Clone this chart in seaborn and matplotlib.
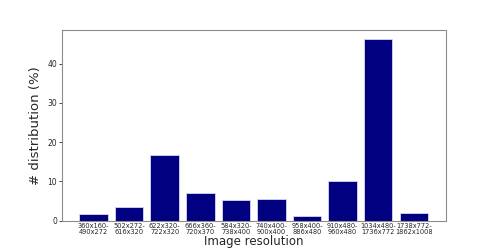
import numpy as np
import seaborn as sns
import matplotlib.pyplot as plt
import pandas as pd

# Faixas de resolução e distribuição (%)
resolutions = ['360x160-\n490x272', '502x272-\n616x320', '622x320-\n722x320', '666x360-\n720x370',
               '584x320-\n738x400', '740x400-\n900x400', '958x400-\n886x480', '910x480-\n960x480',
               '1034x480-\n1736x772', '1738x772-\n1862x1008']
distribution = [1.6, 3.6, 16.7, 7.1, 5.35, 5.6, 1.2, 10.0, 46.25, 2.0]

df = pd.DataFrame({'resolution': resolutions, 'distribution': distribution})

sns.set_style('white', {'axes.edgecolor': '0.55'})
plt.rcParams['font.family'] = ['DejaVu Sans']

fig, ax = plt.subplots(figsize=(4.95, 2.48), dpi=100)
fig.subplots_adjust(left=0.125, right=0.9, bottom=0.11, top=0.88)

sns.barplot(data=df, x='resolution', y='distribution', color='navy', saturation=1,
            width=0.8, edgecolor='#d8d8f0', linewidth=0.6, ax=ax)

ax.set_xlim(-0.89, 9.89)
ax.set_ylim(0, 48.6)
ax.set_yticks([0, 10, 20, 30, 40])
ax.tick_params(axis='x', labelsize=4.8, length=0, pad=1.5)
ax.tick_params(axis='y', labelsize=5.5, length=2, width=0.6, left=True, pad=1.5)
for s in ax.spines.values():
    s.set_linewidth(0.8)
for t in ax.get_xticklabels():
    t.set_linespacing(1.0)

ax.set_xlabel('Image resolution', fontsize=8.5, labelpad=0.5)
ax.set_ylabel('# distribution (%)', fontsize=9.5, labelpad=4)

plt.savefig('out.png', dpi=100)
